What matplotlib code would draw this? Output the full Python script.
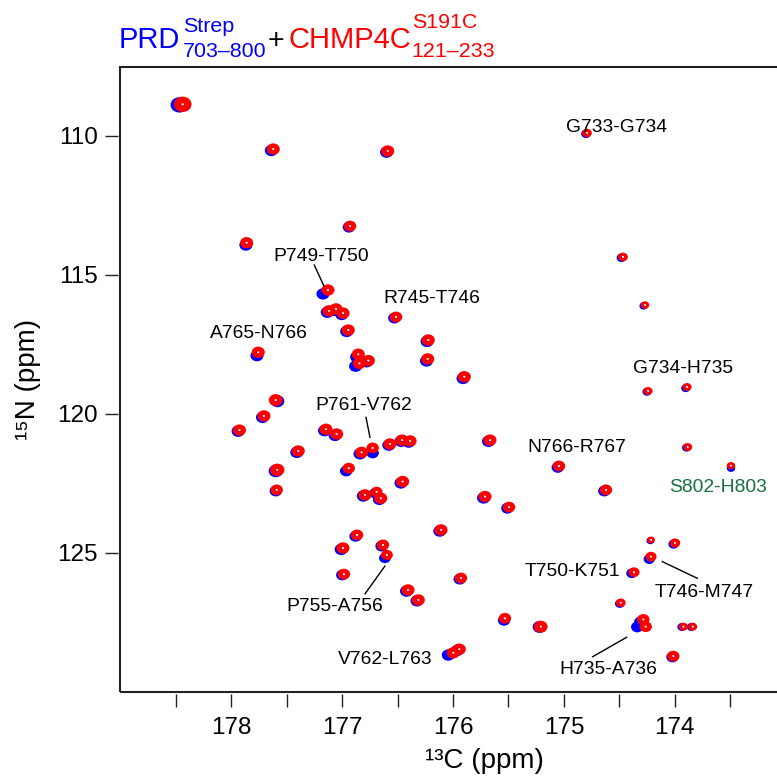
import matplotlib
matplotlib.use("Agg")
import matplotlib.pyplot as plt
from matplotlib.patches import Ellipse, Rectangle

plt.rcParams['font.family'] = ['Liberation Sans', 'DejaVu Sans']

# ---- peak data (ppm) ----
red_c = [178.440, 177.623, 176.590, 174.792, 176.930, 177.863, 174.467, 174.268,
         177.129, 177.120, 177.057, 176.993, 176.515, 176.946, 176.224, 177.758,
         176.856, 176.765, 176.846, 176.229, 175.899, 177.601, 177.707, 177.928,
         177.147, 177.051, 177.397, 176.825, 176.726, 176.570, 176.461, 176.388,
         175.667, 176.942, 177.587, 177.592, 176.455, 176.795, 176.690, 176.653,
         175.712, 175.495, 175.044, 174.620, 173.883, 173.492, 174.241, 173.889,
         174.214, 173.997, 174.214, 174.367, 174.487, 175.532, 175.209, 174.283,
         174.262, 173.922, 173.838, 174.013, 175.998, 175.944, 176.314, 176.407,
         175.929, 176.109, 176.994, 176.867, 176.633, 176.597, 176.985]
red_n = [108.86, 110.47, 110.54, 109.89, 113.24, 113.84, 114.35, 116.08,
         115.54, 116.29, 116.22, 116.37, 116.51, 116.98, 117.34, 117.78,
         117.85, 118.08, 118.18, 118.02, 118.66, 119.50, 120.07, 120.58,
         120.55, 120.72, 121.33, 121.38, 121.22, 121.08, 120.94, 120.97,
         120.94, 121.95, 122.01, 122.73, 122.43, 122.91, 122.80, 123.03,
         122.97, 123.35, 121.87, 122.73, 121.19, 121.86, 119.17, 119.03,
         124.53, 124.64, 125.13, 125.69, 126.79, 127.35, 127.65, 127.39,
         127.65, 127.65, 127.65, 128.71, 128.59, 128.46, 126.69, 126.33,
         125.90, 124.17, 124.82, 124.35, 124.71, 125.07, 125.76]
blue_c = [178.470, 177.640, 176.600, 174.800, 176.940, 177.870, 174.480, 174.280,
          177.174, 177.135, 177.070, 177.005, 176.530, 176.960, 176.235, 177.770,
          176.870, 176.780, 176.880, 176.240, 175.910, 177.585, 177.720, 177.940,
          177.160, 177.065, 177.410, 176.840, 176.726, 176.580, 176.470, 176.400,
          175.680, 176.965, 177.600, 177.600, 176.470, 176.810, 176.705, 176.665,
          175.725, 175.510, 175.055, 174.635, 173.893, 173.492, 174.250, 173.900,
          174.220, 174.010, 174.230, 174.387, 174.495, 175.540, 175.220, 174.310,
          174.338, 173.935, 173.850, 174.020, 176.043, 175.960, 176.325, 176.420,
          175.940, 176.120, 177.010, 176.880, 176.645, 176.615, 177.000]
blue_n = [108.88, 110.52, 110.58, 109.92, 113.28, 113.92, 114.38, 116.11,
          115.68, 116.34, 116.27, 116.42, 116.55, 117.03, 117.39, 117.90,
          117.95, 118.12, 118.28, 118.09, 118.72, 119.54, 120.12, 120.62,
          120.60, 120.77, 121.38, 121.43, 121.40, 121.12, 120.98, 121.01,
          120.98, 122.05, 122.05, 122.77, 122.48, 122.95, 122.85, 123.07,
          123.02, 123.39, 121.92, 122.77, 121.21, 121.95, 119.20, 119.07,
          124.56, 124.68, 125.22, 125.73, 126.82, 127.42, 127.66, 127.48,
          127.66, 127.66, 127.66, 128.74, 128.67, 128.50, 126.72, 126.37,
          125.94, 124.21, 124.87, 124.40, 124.75, 125.18, 125.79]
intensity = [1.35, 1.0, 1.0, 0.75, 0.95, 1.0, 0.75, 0.65,
             1.0, 1.0, 1.0, 1.0, 0.95, 1.0, 1.0, 1.0,
             1.0, 1.0, 1.0, 1.0, 1.0, 1.05, 1.0, 1.0,
             1.0, 1.0, 1.0, 1.0, 0.95, 1.0, 1.0, 1.0,
             1.0, 0.95, 1.1, 0.95, 1.0, 1.0, 0.9, 1.0,
             1.0, 0.95, 0.95, 0.95, 0.7, 0.65, 0.7, 0.7,
             0.6, 0.8, 0.85, 0.85, 0.75, 0.95, 1.05, 0.95,
             0.95, 0.7, 0.7, 0.95, 1.0, 1.0, 1.0, 1.0,
             0.95, 1.0, 1.0, 0.95, 0.95, 0.9, 0.95]

# ---- labels: text, C, N, color ----
labels = [("G733-G734", 174.521, 109.71, 'black'),
          ("P749-T750", 177.188, 114.34, 'black'),
          ("R745-T746", 176.195, 115.86, 'black'),
          ("A765-N766", 177.756, 117.09, 'black'),
          ("G734-H735", 173.921, 118.38, 'black'),
          ("P761-V762", 176.810, 119.71, 'black'),
          ("N766-R767", 174.886, 121.19, 'black'),
          ("S802-H803", 173.612, 122.65, '#17703d'),
          ("T750-K751", 174.927, 125.67, 'black'),
          ("T746-M747", 173.738, 126.43, 'black'),
          ("H735-A736", 174.596, 129.18, 'black'),
          ("V762-L763", 176.610, 128.82, 'black'),
          ("P755-A756", 177.066, 126.94, 'black')]
leader_c = [(177.253, 177.165), (176.786, 176.750), (174.112, 173.796),
            (174.433, 174.740), (176.615, 176.795)]
leader_n = [(114.64, 115.40), (120.12, 120.84), (125.31, 125.91),
            (128.03, 128.73), (125.47, 126.47)]

xticks_major = [178, 177, 176, 175, 174]
xticks_minor = [178.5, 177.5, 176.5, 175.5, 174.5, 173.5]
yticks = [110, 115, 120, 125]

W, H = 777, 776
fig = plt.figure(figsize=(W / 100, H / 100), dpi=100)
ax = fig.add_axes([120 / W, 1 - 692 / H, (848 - 120) / W, (692 - 67) / H])
ax.set_xlim(179.006, 172.436)
ax.set_ylim(130.0, 107.518)

base_w, base_h = 0.118, 0.41
for c, n, s in zip(blue_c, blue_n, intensity):
    ax.add_patch(Ellipse((c, n), base_w * s, base_h * s, facecolor='#0000ff',
                         edgecolor='none', zorder=2))
for c, n, s in zip(red_c, red_n, intensity):
    ax.add_patch(Ellipse((c, n), base_w * s, base_h * s, facecolor='#ff0000',
                         edgecolor='none', zorder=3))
for c, n in zip(red_c, red_n):
    ax.add_patch(Ellipse((c, n), 0.02, 0.07, facecolor='white',
                         edgecolor='none', zorder=4))
for c, n in zip(blue_c, blue_n):
    ax.add_patch(Ellipse((c, n), 0.01, 0.035, facecolor='#0000ff',
                         edgecolor='none', zorder=5))

for txt, c, n, col in labels:
    ax.text(c, n, txt, ha='center', va='center', fontsize=13.9, color=col, zorder=6)
for lc, ln in zip(leader_c, leader_n):
    ax.plot(lc, ln, color='black', lw=1.0, zorder=6)

# frame & ticks
for side in ['left', 'bottom']:
    ax.spines[side].set_position(('outward', 1.5))
    ax.spines[side].set_visible(False)
for side in ['right', 'top']:
    ax.spines[side].set_visible(False)
ax.add_patch(Rectangle((0, 0), 1, 1, transform=ax.transAxes, fill=False,
                       edgecolor='#222222', lw=1.5, clip_on=False, zorder=7))

ax.set_xticks(xticks_major)
ax.set_xticks(xticks_minor, minor=True)
ax.set_xticklabels([str(v) for v in xticks_major])
ax.set_yticks(yticks)
ax.set_yticklabels([str(v) for v in yticks])
ax.tick_params(axis='both', which='both', direction='out', length=9.5, width=1.0,
               color='#222222')
ax.tick_params(axis='x', which='major', labelsize=17.5, pad=7)
ax.tick_params(axis='y', which='major', labelsize=17.5, pad=5)


def px(x, y):
    return x / W, 1 - y / H


fig.text(*px(484, 768.3), '¹³C (ppm)', fontsize=20, ha='center', va='baseline')
fig.text(*px(35, 379.5), '¹⁵N (ppm)', fontsize=20, ha='center', va='baseline',
         rotation=90, rotation_mode='anchor')

# title
fig.text(*px(119, 48.3), 'PRD', fontsize=21, color='#0000ff', va='baseline')
fig.text(*px(183, 32.3), 'Strep', fontsize=15.4, color='#0000ff', va='baseline')
fig.text(*px(183, 57.3), '703–800', fontsize=15.4, color='#0000ff', va='baseline')
fig.text(*px(268, 48.3), '+', fontsize=20.5, color='black', va='baseline')
fig.text(*px(289, 48.3), 'CHMP4C', fontsize=21, color='#ff0000', va='baseline')
fig.text(*px(412, 28.3), 'S191C', fontsize=15.4, color='#ff0000', va='baseline')
fig.text(*px(411, 57.3), '121–233', fontsize=15.4, color='#ff0000', va='baseline')

fig.savefig('out.png', dpi=100, facecolor='white')
